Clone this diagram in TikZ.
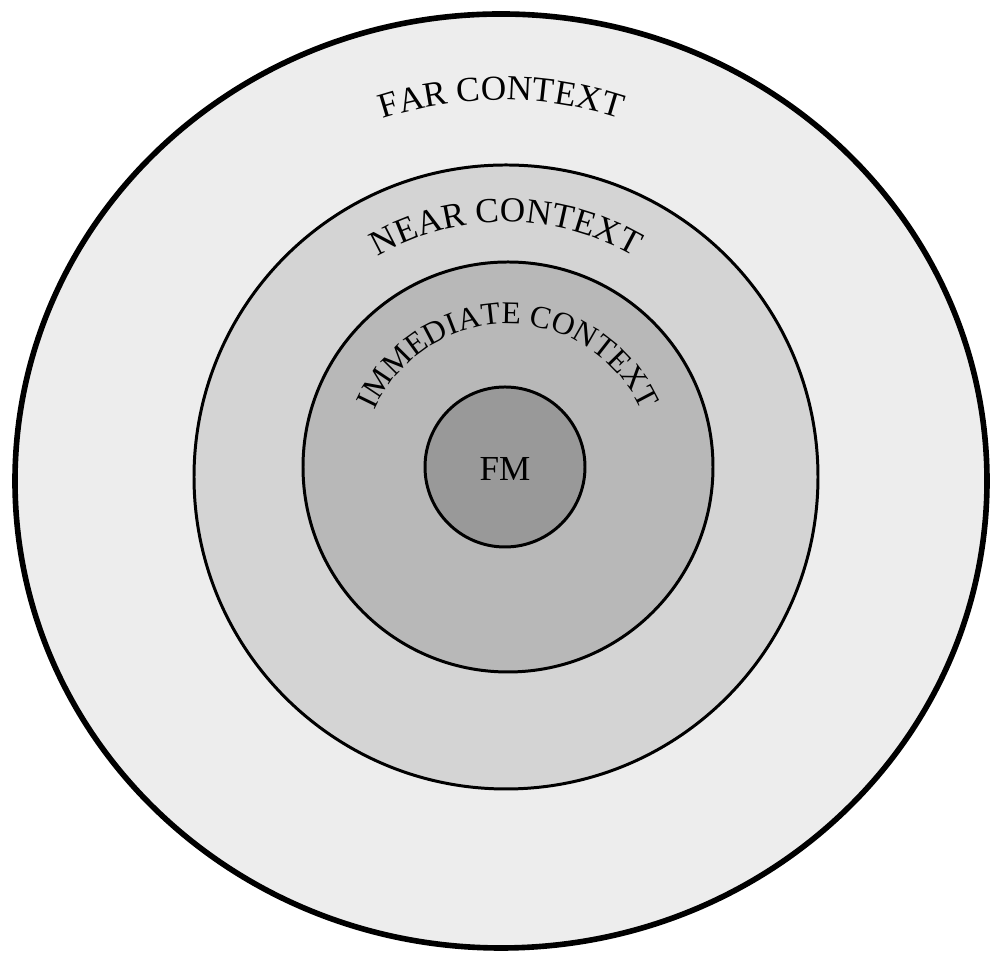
\documentclass[tikz,border=0pt]{standalone}
\usepackage{fontspec}
\setmainfont{Liberation Serif}
\usetikzlibrary{decorations.text}
\definecolor{farfill}{gray}{0.93}
\definecolor{nearfill}{gray}{0.83}
\definecolor{immfill}{gray}{0.72}
\definecolor{fmfill}{gray}{0.60}
\newcommand{\ring}[4]{ \filldraw[fill=#4, line width=#3] #1 circle (#2);}
\newcommand{\arclabel}[4]{ \path[decorate, decoration={text along path, text align=center, text={|\fontsize{#3}{#3}\selectfont|#4}}] #1 ++(160:#2) arc (160:20:#2);}

\begin{document}
\begin{tikzpicture}[x=0.02cm, y=0.02cm]
        \useasboundingbox (0,0) rectangle (992,956);
        % far
        \filldraw[fill=farfill, line width=3.2pt] (501,475) ellipse [x radius=486, y radius=467];
        % near
        \ring{(506,479)}{312}{1.7pt}{nearfill}
        % immediate
        \ring{(508,489)}{205}{1.7pt}{immfill}
        % fm
        \ring{(505,489)}{80}{1.7pt}{fmfill}
        \node[font=\fontsize{20pt}{20pt}\selectfont] (fm) at (505,487) {FM};
        % labels
        \arclabel{(501,475)}{381}{20pt}{FAR CONTEXT}
        \arclabel{(506,479)}{255}{20pt}{NEAR CONTEXT}
        \arclabel{(508,486)}{146}{18pt}{IMMEDIATE CONTEXT}
    \end{tikzpicture}
\end{document}
